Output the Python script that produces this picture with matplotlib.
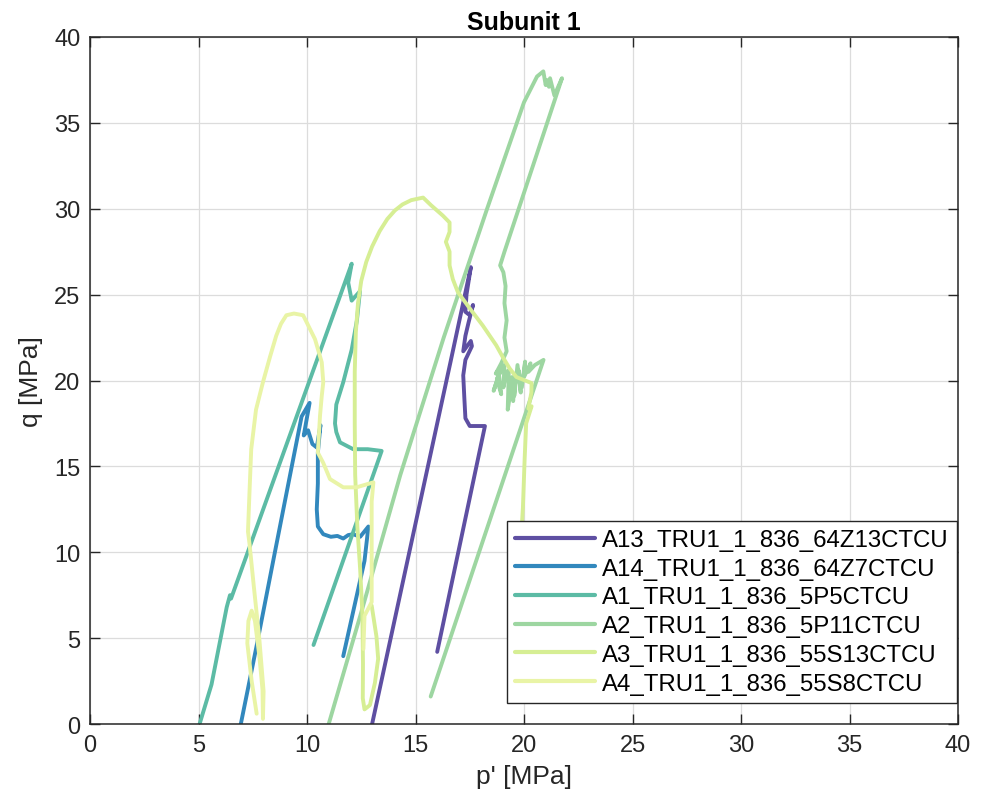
import matplotlib
matplotlib.use("Agg")
import matplotlib.pyplot as plt

plt.rcParams['font.family'] = ['Liberation Sans', 'DejaVu Sans']

labels = ["A13_TRU1_1_836_64Z13CTCU", "A14_TRU1_1_836_64Z7CTCU", "A1_TRU1_1_836_5P5CTCU",
          "A2_TRU1_1_836_5P11CTCU", "A3_TRU1_1_836_55S13CTCU", "A4_TRU1_1_836_55S8CTCU"]
colors = ['#5e4fa2', '#3288bd', '#5cbba5', '#9dd6a1', '#d6ee94', '#e9f4a6']

# A13
p_a13 = [13.0, 14.2, 15.4, 16.6, 17.55, 17.35, 17.3, 17.5, 17.65, 17.45, 17.3, 17.2, 17.55, 17.6,
         17.3, 17.2, 17.25, 17.3, 17.5, 18.2, 16.0]
q_a13 = [0.0, 7.0, 14.0, 21.0, 26.6, 25.0, 24.0, 23.8, 24.4, 23.4, 22.6, 21.7, 22.3, 22.0,
         21.2, 20.3, 19.0, 17.8, 17.35, 17.35, 4.2]
# A14
p_a14 = [6.95, 7.67, 8.52, 9.22, 9.75, 10.12, 9.85, 10.05, 10.25, 10.45, 10.62, 10.5, 10.5, 10.45,
         10.5, 10.75, 11.1, 11.4, 11.67, 11.9, 12.13, 12.45, 12.83, 12.65, 11.67]
q_a14 = [0.0, 4.5, 10.0, 14.5, 17.9, 18.7, 16.8, 17.1, 16.3, 16.1, 17.4, 15.8, 14.0, 12.5,
         11.5, 11.05, 10.9, 10.95, 10.8, 11.0, 11.05, 10.9, 11.5, 9.5, 3.95]
# A1
p_a1 = [5.05, 5.6, 6.3, 6.45, 6.5, 8.55, 10.49, 12.06, 11.9, 12.06, 12.44, 12.3, 12.06, 11.67,
        11.35, 11.29, 11.35, 11.52, 12.13, 12.8, 13.44, 10.3]
q_a1 = [0.0, 2.3, 6.8, 7.5, 7.3, 14.5, 21.3, 26.8, 25.7, 24.65, 25.2, 23.5, 21.8, 19.9,
        18.6, 17.5, 17.0, 16.4, 16.0, 16.0, 15.9, 4.6]
# A2
p_a2 = [11.0, 12.5, 14.3, 16.3, 18.3, 20.0, 20.6, 20.89, 21.0, 21.05, 21.15, 21.2, 21.4, 21.75,
        19.1, 18.9, 19.05, 19.15, 19.1, 19.2, 19.1, 19.2, 18.95, 18.7, 18.95, 18.6, 18.85, 18.95,
        18.75, 19.1, 19.05, 19.2, 19.3, 19.25, 19.4, 19.45, 19.5, 19.6, 19.55, 19.7, 19.85,
        19.75, 19.9, 20.05, 20.0, 20.3, 20.2, 20.5, 20.9, 15.7]
q_a2 = [0.0, 6.5, 14.5, 22.5, 30.0, 36.2, 37.7, 38.0, 37.2, 37.5, 37.1, 37.6, 36.6, 37.6,
        27.5, 26.7, 26.3, 25.5, 24.5, 23.5, 22.5, 21.7, 21.0, 20.4, 20.8, 19.4, 20.3, 19.2,
        20.1, 20.9, 19.6, 20.5, 20.6, 18.3, 19.5, 20.2, 18.8, 20.4, 19.1, 20.9, 19.3,
        20.6, 19.6, 21.1, 20.2, 21.0, 20.5, 20.9, 21.2, 1.6]
# A3
p_a3 = [12.98, 13.2, 13.28, 13.13, 12.9, 12.65, 12.57, 12.58, 12.55, 12.45, 12.32, 12.22, 12.2,
        12.2, 12.25, 12.35, 12.5, 12.73, 13.0, 13.35, 13.7, 14.05, 14.4, 14.8, 15.35, 15.72,
        16.26, 16.57, 16.57, 16.4, 16.57, 16.57, 16.72, 16.95, 17.5, 18.1, 18.72, 19.05, 19.34,
        19.65, 20.35, 20.34, 20.2, 20.35, 20.1, 20.03, 19.95, 19.85]
q_a3 = [6.9, 5.1, 3.8, 2.4, 1.1, 0.85, 1.5, 3.5, 6.5, 9.0, 11.5, 14.5, 17.5,
        20.5, 22.8, 24.5, 25.8, 26.9, 27.8, 28.7, 29.4, 29.9, 30.25, 30.5, 30.65, 30.2,
        29.6, 29.2, 28.65, 28.07, 27.5, 26.7, 25.9, 25.15, 24.2, 23.2, 22.05, 21.3, 20.7,
        20.2, 19.85, 19.3, 18.36, 18.5, 17.5, 15.45, 12.6, 10.5]
# A4
p_a4 = [7.68, 7.45, 7.25, 7.3, 7.45, 7.6, 7.8, 7.95, 7.97, 8.0, 7.8, 7.55, 7.35, 7.28, 7.35,
        7.43, 7.65, 7.97, 8.3, 8.58, 8.8, 9.05, 9.4, 9.82, 9.98, 10.37, 10.68, 10.75, 10.68, 10.6,
        10.5, 10.75, 11.06, 11.67, 12.28, 13.06, 12.98, 12.98, 12.98, 12.65, 12.6]
q_a4 = [0.6, 2.5, 4.7, 6.0, 6.6, 6.0, 4.0, 2.0, 0.3, 1.9, 5.0, 8.0, 10.5, 11.2, 13.5,
        16.0, 18.3, 19.9, 21.4, 22.6, 23.3, 23.8, 23.9, 23.8, 23.4, 22.4, 21.06, 19.9, 19.1, 17.95,
        15.8, 15.2, 14.26, 13.78, 13.78, 14.07, 12.95, 9.0, 7.1, 6.3, 4.37]

series_p = [p_a13, p_a14, p_a1, p_a2, p_a3, p_a4]
series_q = [q_a13, q_a14, q_a1, q_a2, q_a3, q_a4]

fig = plt.figure(figsize=(9.82, 8.12), dpi=100)
ax = fig.add_axes([90/982, 1-725/812, (958-90)/982, (725-38)/812])

for p, q, c, lab in zip(series_p, series_q, colors, labels):
    ax.plot(p, q, color=c, lw=2.8, label=lab, solid_joinstyle='round', solid_capstyle='round')

ax.set_xlim(0, 40)
ax.set_ylim(0, 40)
ax.set_xticks(range(0, 41, 5))
ax.set_yticks(range(0, 41, 5))
ax.grid(True, color='#dcdcdc', lw=0.9)
ax.set_axisbelow(True)
for s in ax.spines.values():
    s.set_color('#262626')
    s.set_linewidth(1.1)
ax.tick_params(direction='in', top=True, right=True, length=7, width=1.0, color='#262626',
               labelsize=17, labelcolor='#262626', pad=7)
ax.set_xlabel("p' [MPa]", fontsize=19, color='#262626', labelpad=6)
ax.set_ylabel("q [MPa]", fontsize=19, color='#262626', labelpad=8)
ax.set_title("Subunit 1", fontsize=18, fontweight='bold', pad=6)

leg = ax.legend(loc='lower right', bbox_to_anchor=(957/982, 1-704/812), bbox_transform=fig.transFigure,
                borderaxespad=0, fontsize=17.3, fancybox=False, framealpha=1, edgecolor='#262626',
                handlelength=3.3, handletextpad=0.3, labelspacing=0.28, borderpad=0.35)
leg.get_frame().set_linewidth(1.0)
for lh in leg.get_lines():
    lh.set_linewidth(3.0)

fig.savefig('out.png', dpi=100)
